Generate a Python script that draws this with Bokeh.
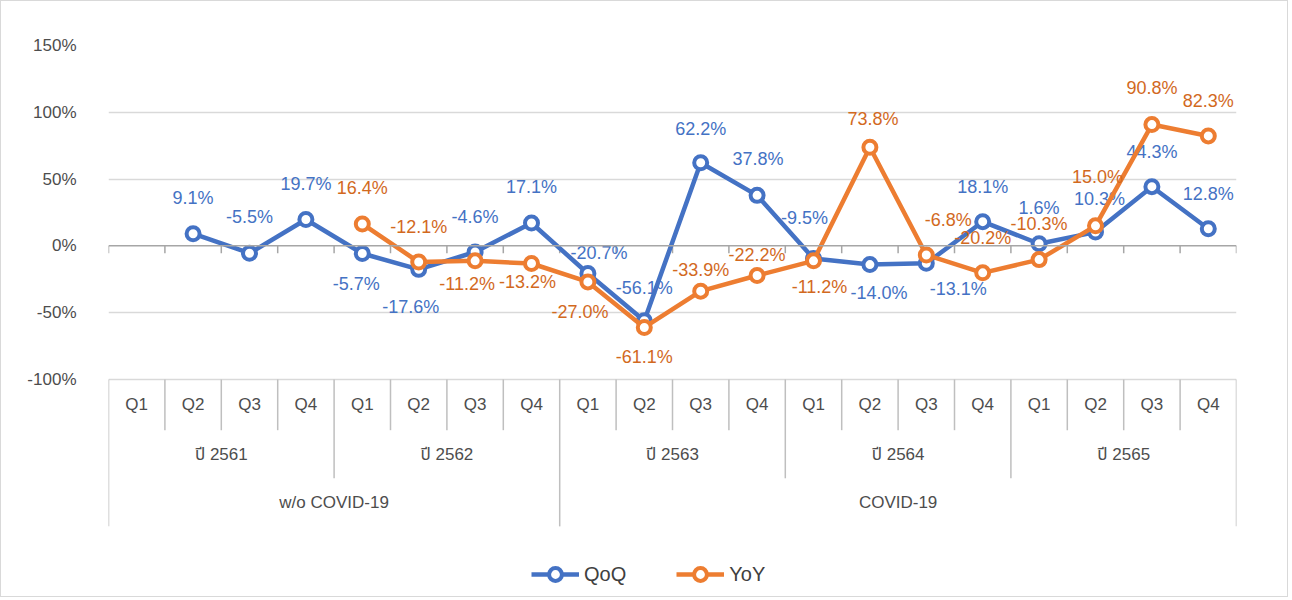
import math
from bokeh.plotting import figure
from bokeh.models import (Range1d, FixedTicker, PrintfTickFormatter, Span,
                          Legend, LegendItem, ColumnDataSource)
from bokeh.core.properties import value
from bokeh.embed import file_html
from bokeh.resources import INLINE

# ---------------- data ----------------
quarter_labels = ["Q1", "Q2", "Q3", "Q4"]
year_labels = ["ปี 2561", "ปี 2562", "ปี 2563", "ปี 2564", "ปี 2565"]
period_labels = ["w/o COVID-19", "COVID-19"]
period_years = [2, 3]

qoq = [None, 9.1, -5.5, 19.7,
       -5.7, -17.6, -4.6, 17.1,
       -20.7, -56.1, 62.2, 37.8,
       -9.5, -14.0, -13.1, 18.1,
       1.6, 10.3, 44.3, 12.8]
yoy = [None, None, None, None,
       16.4, -12.1, -11.2, -13.2,
       -27.0, -61.1, -33.9, -22.2,
       -11.2, 73.8, -6.8, -20.2,
       -10.3, 15.0, 90.8, 82.3]
y_ticks = [-100, -50, 0, 50, 100, 150]

# label placement (screen px offsets, styling only)
qoq_dx = [0, 0, 0, 0, -6, -8, 0, 0, 11, 0, 0, 1, -9, 9, 32, 0, 0, 4, 0, 0]
qoq_dy = [0, -36, -36, -36, 31, 38, -35, -36, -21, -33, -34, -36, -41, 28, 26, -35, -36, -33, -35, -35]
yoy_dx = [0, 0, 0, 0, 0, 0, -8, -4, -8, 0, 0, 0, 6, 3, 22, 0, 0, 2, 0, 0]
yoy_dy = [0, 0, 0, 0, -36, -35, 23, 19, 30, 30, -21, -21, 26, -28, -35, -35, -36, -49, -37, -35]

BLUE = "#4472C4"
ORANGE = "#ED7D31"
BLUE_TXT = "#4472C4"
ORANGE_TXT = "#D2691E"
AXIS_TXT = "#4d4d4d"
FONT = "Liberation Sans, Noto Sans, Noto Sans Thai, sans-serif"

n = len(qoq)
xs = [i + 0.5 for i in range(n)]
nan = float("nan")

Y_TOP = 150
Y_END = -264     # bottom of drawing area (legend strip)
TBL_BOT = -210
Q_BOT = -138
YR_BOT = -174

p = figure(width=1288, height=597, output_backend="svg", toolbar_location=None,
           x_range=Range1d(0, n), y_range=Range1d(Y_END, Y_TOP),
           min_border_left=107, min_border_right=53, min_border_top=44,
           min_border_bottom=0, outline_line_color=None,
           styles={"border": "1px solid #d9d9d9"})
p.xaxis.visible = False
p.xgrid.visible = False

p.yaxis.ticker = FixedTicker(ticks=y_ticks)
p.yaxis.formatter = PrintfTickFormatter(format="%d%%")
p.yaxis.axis_line_color = None
p.yaxis.major_tick_line_color = None
p.yaxis.minor_tick_line_color = None
p.yaxis.major_label_standoff = 26
p.yaxis.major_label_text_font = FONT
p.yaxis.major_label_text_font_size = "17px"
p.yaxis.major_label_text_color = AXIS_TXT

p.ygrid.ticker = FixedTicker(ticks=[t for t in y_ticks if t != 0])
p.ygrid.grid_line_color = "#d9d9d9"
p.ygrid.grid_line_width = 1.5

# zero axis line with downward tick marks at category boundaries
p.add_layout(Span(location=0, dimension="width", line_color="#a6a6a6", line_width=1.5))
bx = list(range(n + 1))
p.segment(x0=bx, y0=[0] * len(bx), x1=bx, y1=[-5.5] * len(bx),
          line_color="#a6a6a6", line_width=1.5)

# category table below the plot
nq = len(quarter_labels)
period_bounds = [0]
for c in period_years:
    period_bounds.append(period_bounds[-1] + c * nq)
year_bounds = [k * nq for k in range(len(year_labels) + 1)]
sx0, sy0, sx1, sy1 = [], [], [], []
for k in range(n + 1):
    if k in period_bounds:
        bottom = TBL_BOT
    elif k in year_bounds:
        bottom = YR_BOT
    else:
        bottom = Q_BOT
    sx0.append(k); sx1.append(k); sy0.append(-100); sy1.append(bottom)
p.segment(x0=sx0, y0=sy0, x1=sx1, y1=sy1, line_color="#bfbfbf", line_width=1.5)

q_text = [quarter_labels[i % nq] for i in range(n)]
p.text(x=xs, y=[(-100 + Q_BOT) / 2] * n, text=q_text, text_align="center",
       text_baseline="middle", text_font=value(FONT), text_font_size="17px",
       text_color=AXIS_TXT)
yx = [(year_bounds[k] + year_bounds[k + 1]) / 2 for k in range(len(year_labels))]
p.text(x=yx, y=[(Q_BOT + YR_BOT) / 2] * len(yx), text=year_labels, text_align="center",
       text_baseline="middle", text_font=value(FONT), text_font_size="17px",
       text_color=AXIS_TXT)
px_ = [(period_bounds[k] + period_bounds[k + 1]) / 2 for k in range(len(period_labels))]
p.text(x=px_, y=[(YR_BOT + TBL_BOT) / 2] * len(px_), text=period_labels, text_align="center",
       text_baseline="middle", text_font=value(FONT), text_font_size="17px",
       text_color=AXIS_TXT)


def series(vals, color, txt_color, dx, dy):
    yv = [nan if v is None else v for v in vals]
    ln = p.line(xs, yv, line_color=color, line_width=4.5)
    sc = p.scatter(xs, yv, size=13, fill_color="white", line_color=color, line_width=4)
    idx = [i for i, v in enumerate(vals) if v is not None]
    src = ColumnDataSource(dict(
        x=[xs[i] for i in idx], y=[vals[i] for i in idx],
        t=["%.1f%%" % vals[i] for i in idx],
        dx=[dx[i] for i in idx], dy=[dy[i] for i in idx]))
    p.text(x="x", y="y", text="t", x_offset="dx", y_offset="dy", source=src,
           text_align="center", text_baseline="middle", text_font=value(FONT),
           text_font_size="18px", text_color=txt_color)
    return ln, sc


q_ln, q_sc = series(qoq, BLUE, BLUE_TXT, qoq_dx, qoq_dy)
y_ln, y_sc = series(yoy, ORANGE, ORANGE_TXT, yoy_dx, yoy_dy)

legend = Legend(items=[LegendItem(label="QoQ", renderers=[q_ln, q_sc]),
                       LegendItem(label="YoY", renderers=[y_ln, y_sc])],
                orientation="horizontal", location=(423, 8),
                glyph_width=48, glyph_height=32, label_standoff=5, spacing=50,
                padding=0, margin=0, border_line_color=None,
                background_fill_alpha=0,
                label_text_font=FONT, label_text_font_size="20px",
                label_text_color="#404040", label_height=32)
p.add_layout(legend, "center")

open("out.html", "w").write(file_html(p, INLINE))
